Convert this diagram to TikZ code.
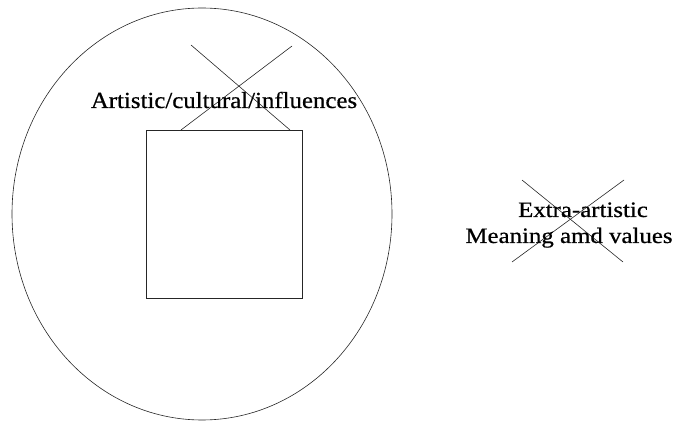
\documentclass[tikz,border=0pt]{standalone}
\usepackage{fontspec}
\setmainfont{Liberation Serif}[FakeBold=0.6]
\usetikzlibrary{shapes.geometric}
\tikzset{
  thinline/.style={draw=black!85, line width=0.6pt},
  lbl/.style={inner sep=0pt, anchor=base, font=\fontsize{23}{26}\selectfont, xscale=1.08, transform shape},
  lbltwo/.style={inner sep=0pt, anchor=base, font=\fontsize{22}{26}\selectfont, xscale=1.13, transform shape},
}
\begin{document}
\begin{tikzpicture}[x=1pt,y=-1pt]
\useasboundingbox (0,0) rectangle (675,422);
\node[thinline, ellipse, minimum width=380pt, minimum height=412pt, inner sep=0pt] (outer) at (202,214) {};
\node[thinline, rectangle, minimum width=156pt, minimum height=168pt, inner sep=0pt] (sq) at (224,214) {};
\coordinate (c1a) at (191,45);
\coordinate (c1b) at (290,130);
\coordinate (c2a) at (292,46);
\coordinate (c2b) at (181,130);
\draw[thinline] (c1a) -- (c1b);
\draw[thinline] (c2a) -- (c2b);
\node[lbl] (art) at (224,108) {Artistic/cultural/influences};
\coordinate (d1a) at (522,180);
\coordinate (d1b) at (623,262);
\coordinate (d2a) at (624,180);
\coordinate (d2b) at (512,262);
\draw[thinline] (d1a) -- (d1b);
\draw[thinline] (d2a) -- (d2b);
\node[lbltwo] (extra) at (583,217) {Extra-artistic};
\node[lbltwo] (mean) at (569,243) {Meaning amd values};
\end{tikzpicture}
\end{document}
